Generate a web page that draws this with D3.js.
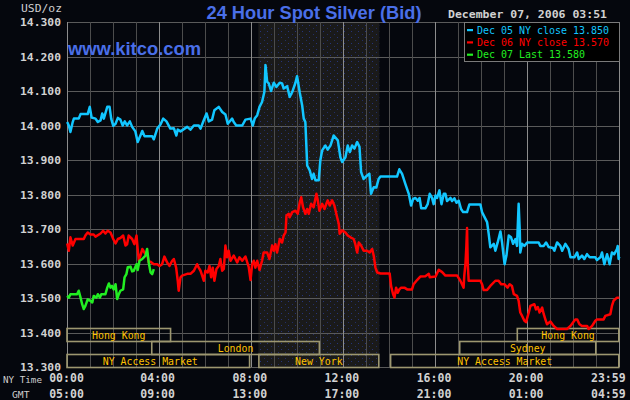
<!DOCTYPE html>
<html><head><meta charset="utf-8">
<script src="https://cdn.jsdelivr.net/npm/d3@7"></script>
<style>html,body{margin:0;padding:0;background:#05070d;} svg{display:block}</style>
</head><body><div id="chart"></div>
<script>
// ---------- data ----------
const yTicks = [14.3, 14.2, 14.1, 14.0, 13.9, 13.8, 13.7, 13.6, 13.5, 13.4, 13.3];
const labelHours = [0, 4, 8, 12, 16, 20, 24];
const nyTimeLabels = ["00:00", "04:00", "08:00", "12:00", "16:00", "20:00", "23:59"];
const gmtLabels = ["05:00", "09:00", "13:00", "17:00", "21:00", "01:00", "04:59"];
const legendLabels = ["Dec 05 NY close 13.850", "Dec 06 NY close 13.570", "Dec 07 Last 13.580"];
const seriesColors = ["#12c6ff", "#ff0000", "#22ee22"];
const titleText = "24 Hour Spot Silver (Bid)";
const dateText = "December 07, 2006 03:51";
const siteText = "www.kitco.com";
const shadeHours = [8.33, 13.58];
// sessions: name, start hour, end hour, row (0 = top)
const sessionNames = ["Hong Kong", "London", "NY Access Market", "New York", "NY Access Market", "Sydney", "Hong Kong"];
const sessionStart = [0, 3.68, 0, 8.33, 14.05, 17.05, 19.55];
const sessionEnd = [4.54, 11.0, 7.97, 13.58, 24, 23.0, 24];
const sessionRow = [0, 1, 2, 2, 2, 1, 0];

// [hour (NY time), price]
const dec05 = [[0.03,14.010],[0.10,14.000],[0.17,13.981],[0.27,14.010],[0.32,14.020],[0.53,14.020],[0.61,14.033],[0.92,14.033],[1.01,14.054],[1.09,14.023],[1.26,14.020],[1.36,14.010],[1.48,14.015],[1.55,14.035],[1.62,14.020],[1.77,14.054],[1.87,14.054],[1.94,14.020],[2.03,13.999],[2.13,14.005],[2.23,14.022],[2.34,14.017],[2.44,14.000],[2.53,14.012],[2.63,14.000],[2.75,14.012],[2.85,13.996],[2.99,13.983],[3.09,13.952],[3.21,13.971],[3.29,13.984],[3.39,13.969],[3.72,13.969],[3.79,13.960],[3.94,13.991],[4.08,14.003],[4.20,14.020],[4.34,14.012],[4.51,13.991],[4.66,13.992],[4.77,13.971],[4.83,13.988],[4.95,13.983],[5.24,13.996],[5.38,13.988],[5.53,14.000],[5.74,14.000],[5.82,13.991],[5.93,14.010],[6.08,14.035],[6.18,14.012],[6.32,14.017],[6.42,14.044],[6.61,14.054],[6.76,14.039],[6.90,14.032],[7.00,14.005],[7.19,14.020],[7.26,14.010],[7.37,14.000],[7.63,14.000],[7.77,14.017],[7.99,14.020],[8.09,14.000],[8.17,14.020],[8.28,14.030],[8.38,14.054],[8.49,14.068],[8.59,14.097],[8.64,14.175],[8.71,14.127],[8.78,14.122],[8.88,14.100],[9.00,14.124],[9.11,14.112],[9.26,14.124],[9.36,14.122],[9.43,14.107],[9.58,14.114],[9.69,14.083],[9.80,14.097],[9.94,14.124],[10.01,14.143],[10.13,14.094],[10.23,14.059],[10.30,14.020],[10.37,14.010],[10.45,13.884],[10.56,13.870],[10.66,13.845],[10.73,13.860],[10.81,13.841],[10.95,13.841],[11.02,13.899],[11.10,13.928],[11.24,13.942],[11.34,13.930],[11.46,13.942],[11.60,13.971],[11.78,13.957],[11.89,13.908],[11.97,13.894],[12.11,13.908],[12.21,13.942],[12.30,13.923],[12.40,13.942],[12.50,13.933],[12.62,13.952],[12.72,13.938],[12.79,13.865],[12.90,13.845],[13.05,13.855],[13.15,13.860],[13.22,13.802],[13.34,13.821],[13.45,13.820],[13.55,13.845],[13.63,13.852],[14.35,13.852],[14.45,13.873],[14.57,13.860],[14.71,13.831],[14.86,13.802],[14.96,13.768],[15.05,13.787],[15.15,13.790],[15.25,13.782],[15.33,13.790],[15.40,13.760],[15.58,13.760],[15.68,13.772],[15.77,13.802],[15.87,13.790],[15.94,13.772],[16.02,13.797],[16.09,13.790],[16.19,13.812],[16.28,13.772],[16.38,13.802],[16.45,13.802],[16.52,13.781],[16.67,13.790],[16.74,13.781],[16.84,13.789],[16.93,13.776],[17.03,13.782],[17.13,13.758],[17.22,13.749],[17.39,13.749],[17.49,13.771],[17.97,13.771],[18.04,13.749],[18.26,13.720],[18.33,13.686],[18.40,13.647],[18.55,13.657],[18.62,13.637],[18.72,13.661],[18.84,13.693],[18.91,13.661],[18.95,13.637],[19.02,13.598],[19.10,13.623],[19.20,13.681],[19.30,13.676],[19.39,13.657],[19.49,13.671],[19.56,13.651],[19.63,13.773],[19.68,13.693],[19.70,13.632],[19.78,13.657],[19.88,13.651],[20.00,13.661],[20.50,13.661],[20.57,13.651],[20.72,13.651],[20.82,13.661],[20.93,13.648],[21.12,13.645],[21.18,13.637],[21.30,13.661],[21.44,13.651],[21.52,13.637],[21.66,13.657],[21.80,13.642],[21.88,13.618],[22.05,13.618],[22.17,13.632],[22.24,13.613],[22.38,13.623],[22.48,13.613],[22.60,13.627],[22.71,13.618],[22.96,13.618],[23.03,13.610],[23.18,13.618],[23.25,13.632],[23.35,13.598],[23.47,13.627],[23.58,13.598],[23.68,13.632],[23.78,13.627],[23.90,13.642],[23.93,13.651],[23.97,13.613],[24.00,13.620]];

const dec06 = [[0.03,13.658],[0.10,13.637],[0.17,13.676],[0.27,13.652],[0.39,13.671],[0.75,13.671],[0.82,13.681],[0.92,13.690],[1.04,13.684],[1.18,13.684],[1.26,13.678],[1.48,13.687],[1.59,13.695],[1.69,13.687],[1.79,13.695],[1.91,13.690],[2.03,13.671],[2.13,13.658],[2.23,13.671],[2.34,13.674],[2.46,13.681],[2.56,13.652],[2.63,13.656],[2.70,13.681],[2.85,13.671],[2.95,13.656],[3.04,13.681],[3.09,13.642],[3.14,13.608],[3.21,13.623],[3.29,13.642],[3.43,13.627],[3.50,13.630],[3.57,13.603],[3.65,13.605],[3.79,13.598],[3.94,13.598],[4.04,13.593],[4.15,13.598],[4.25,13.620],[4.37,13.603],[4.47,13.593],[4.59,13.608],[4.66,13.613],[4.76,13.588],[4.83,13.550],[4.87,13.521],[4.95,13.560],[5.02,13.565],[5.24,13.570],[5.38,13.570],[5.53,13.579],[5.67,13.598],[5.74,13.588],[5.82,13.579],[5.89,13.565],[5.96,13.550],[6.03,13.579],[6.13,13.574],[6.21,13.593],[6.28,13.560],[6.35,13.588],[6.42,13.550],[6.51,13.584],[6.61,13.593],[6.68,13.613],[6.76,13.579],[6.83,13.584],[6.90,13.652],[6.97,13.618],[7.04,13.637],[7.12,13.608],[7.26,13.623],[7.41,13.603],[7.51,13.618],[7.63,13.608],[7.77,13.620],[7.91,13.590],[7.99,13.552],[8.06,13.598],[8.13,13.608],[8.20,13.588],[8.28,13.608],[8.38,13.581],[8.49,13.608],[8.56,13.632],[8.71,13.632],[8.81,13.613],[8.93,13.652],[9.00,13.637],[9.07,13.656],[9.14,13.632],[9.26,13.671],[9.36,13.661],[9.43,13.681],[9.51,13.690],[9.55,13.739],[9.65,13.744],[9.69,13.734],[9.80,13.749],[9.94,13.753],[10.04,13.744],[10.13,13.778],[10.19,13.792],[10.27,13.763],[10.37,13.744],[10.45,13.758],[10.52,13.744],[10.62,13.773],[10.73,13.763],[10.85,13.802],[10.91,13.783],[10.98,13.753],[11.10,13.773],[11.20,13.758],[11.28,13.773],[11.34,13.783],[11.43,13.768],[11.53,13.783],[11.63,13.768],[11.75,13.734],[11.82,13.715],[11.86,13.686],[11.97,13.696],[12.11,13.690],[12.21,13.681],[12.33,13.676],[12.47,13.671],[12.54,13.656],[12.62,13.632],[12.69,13.661],[12.79,13.652],[12.90,13.637],[13.05,13.637],[13.16,13.632],[13.27,13.642],[13.34,13.622],[13.41,13.589],[13.49,13.574],[13.63,13.571],[14.03,13.571],[14.09,13.535],[14.18,13.511],[14.24,13.501],[14.31,13.530],[14.38,13.515],[14.45,13.525],[14.53,13.530],[14.67,13.530],[14.79,13.525],[15.00,13.525],[15.07,13.540],[15.22,13.552],[15.36,13.562],[15.58,13.563],[15.73,13.570],[15.77,13.560],[16.02,13.562],[16.16,13.582],[16.31,13.575],[16.45,13.565],[16.96,13.565],[17.10,13.550],[17.17,13.540],[17.24,13.530],[17.27,13.565],[17.32,13.598],[17.36,13.650],[17.39,13.703],[17.42,13.600],[17.46,13.550],[17.97,13.550],[18.04,13.540],[18.11,13.523],[18.26,13.523],[18.40,13.535],[18.62,13.550],[18.76,13.550],[18.87,13.540],[19.01,13.540],[19.15,13.530],[19.24,13.540],[19.34,13.535],[19.42,13.511],[19.56,13.506],[19.63,13.492],[19.70,13.458],[19.78,13.448],[19.88,13.434],[19.95,13.430],[20.07,13.458],[20.14,13.477],[20.31,13.482],[20.38,13.467],[20.46,13.474],[20.54,13.458],[20.65,13.472],[20.72,13.453],[20.79,13.438],[20.86,13.424],[21.01,13.432],[21.15,13.419],[21.30,13.410],[21.73,13.410],[21.88,13.419],[21.99,13.429],[22.09,13.438],[22.17,13.438],[22.27,13.424],[22.38,13.419],[22.60,13.419],[22.67,13.410],[22.82,13.419],[22.96,13.434],[23.03,13.438],[23.32,13.438],[23.39,13.448],[23.61,13.453],[23.68,13.477],[23.75,13.492],[23.90,13.501],[24.00,13.501]];

const dec07 = [[0.03,13.506],[0.10,13.501],[0.17,13.511],[0.46,13.511],[0.53,13.521],[0.61,13.501],[0.68,13.482],[0.75,13.468],[0.82,13.477],[0.92,13.496],[1.04,13.492],[1.12,13.487],[1.18,13.506],[1.30,13.501],[1.36,13.511],[1.45,13.501],[1.51,13.511],[1.69,13.511],[1.77,13.530],[1.84,13.542],[1.91,13.530],[1.98,13.535],[2.05,13.525],[2.13,13.540],[2.20,13.497],[2.27,13.511],[2.34,13.521],[2.46,13.525],[2.52,13.560],[2.60,13.569],[2.66,13.589],[2.78,13.591],[2.85,13.577],[2.92,13.579],[3.04,13.598],[3.09,13.581],[3.17,13.608],[3.29,13.613],[3.43,13.623],[3.50,13.642],[3.57,13.603],[3.65,13.574],[3.72,13.569],[3.79,13.584]];

// ---------- chart ----------
const W = 630, H = 400;
const plot = {left: 66.5, right: 619.3, top: 22, bottom: 367};
const rowTop = [328, 341, 354];
const rowH = 13;

const x = d3.scaleLinear().domain([0, 24]).range([plot.left, plot.right]);
const y = d3.scaleLinear().domain([13.3, 14.3]).range([plot.bottom, plot.top]);

const svg = d3.select("#chart").append("svg").attr("width", W).attr("height", H);
svg.append("rect").attr("width", W).attr("height", H).attr("fill", "#05070d");

const defs = svg.append("defs");
const pat = defs.append("pattern").attr("id", "dots").attr("patternUnits", "userSpaceOnUse")
  .attr("width", 7).attr("height", 6);
pat.append("rect").attr("width", 7).attr("height", 6).attr("fill", "#1a1a1a");
pat.append("rect").attr("x", 1).attr("y", 1).attr("width", 1).attr("height", 1).attr("fill", "#26347a");
pat.append("rect").attr("x", 5).attr("y", 4).attr("width", 1).attr("height", 1).attr("fill", "#222e66");

// shaded trading session
svg.append("rect")
  .attr("x", x(shadeHours[0])).attr("y", plot.top)
  .attr("width", x(shadeHours[1]) - x(shadeHours[0])).attr("height", plot.bottom - plot.top)
  .attr("fill", "url(#dots)");

// grid
const grid = svg.append("g").attr("shape-rendering", "crispEdges");
grid.selectAll("line.h").data(yTicks).join("line")
  .attr("x1", plot.left).attr("x2", plot.right)
  .attr("y1", d => Math.round(y(d)) + 0.5).attr("y2", d => Math.round(y(d)) + 0.5)
  .attr("stroke", "#5a5a5a").attr("stroke-width", 1);
grid.selectAll("line.v").data(d3.range(0, 25)).join("line")
  .attr("x1", d => Math.round(x(d)) + 0.5).attr("x2", d => Math.round(x(d)) + 0.5)
  .attr("y1", plot.top).attr("y2", plot.bottom)
  .attr("stroke", d => d % 4 === 0 ? "#8c8c8c" : "#4c4c4c").attr("stroke-width", 1);

// market session boxes
const sessions = sessionNames.map((n, i) => ({name: n, s: sessionStart[i], e: sessionEnd[i], row: sessionRow[i]}));
const sg = svg.append("g");
sg.selectAll("rect").data(sessions).join("rect")
  .attr("x", d => x(d.s) + 0.5).attr("y", d => rowTop[d.row] + 0.5)
  .attr("width", d => x(d.e) - x(d.s) - 1).attr("height", rowH)
  .attr("fill", "none").attr("stroke", "#9d9770").attr("stroke-width", 1.6);
sg.selectAll("text").data(sessions).join("text")
  .attr("x", d => (x(d.s) + x(d.e)) / 2 - (d.name === "NY Access Market" && d.s === 0 ? 8 : 0))
  .attr("y", d => rowTop[d.row] + rowH - 2.5)
  .attr("text-anchor", "middle")
  .attr("font-family", "DejaVu Sans Mono, monospace").attr("font-size", 10.5)
  .attr("fill", "#ffc200")
  .attr("textLength", d => d.name.length * 5.94).attr("lengthAdjust", "spacingAndGlyphs")
  .text(d => d.name);

// series lines
const line = d3.line().x(d => x(d[0])).y(d => y(d[1]));
[dec05, dec06, dec07].forEach((s, i) => {
  svg.append("path").datum(s).attr("d", line)
    .attr("fill", "none").attr("stroke", seriesColors[i])
    .attr("stroke-width", 2.5).attr("stroke-linejoin", "round");
});

// y axis labels
const mono = "DejaVu Sans Mono, monospace";
svg.append("text").attr("x", 21).attr("y", 12).attr("font-family", mono).attr("font-size", 11)
  .attr("fill", "#cfcfcf").attr("textLength", 41).attr("lengthAdjust", "spacingAndGlyphs").text("USD/oz");
svg.selectAll("text.ylab").data(yTicks).join("text")
  .attr("x", 61).attr("y", d => y(d) + 4)
  .attr("text-anchor", "end").attr("font-family", mono).attr("font-size", 11).attr("font-weight", "bold")
  .attr("fill", "#d2d2d2").attr("textLength", 41).attr("lengthAdjust", "spacingAndGlyphs")
  .text(d => d3.format(".3f")(d));

// x axis labels
svg.append("text").attr("x", 3).attr("y", 383).attr("font-family", mono).attr("font-size", 9.5)
  .attr("fill", "#cfcfcf").attr("textLength", 39).attr("lengthAdjust", "spacingAndGlyphs").text("NY Time");
svg.append("text").attr("x", 12).attr("y", 398).attr("font-family", mono).attr("font-size", 9.5)
  .attr("fill", "#cfcfcf").attr("textLength", 17.5).attr("lengthAdjust", "spacingAndGlyphs").text("GMT");
const xl = labelHours.map((h, i) => ({h, ny: nyTimeLabels[i], gmt: gmtLabels[i], last: i === labelHours.length - 1}));
[["ny", 382], ["gmt", 398]].forEach(([k, yy]) => {
  svg.selectAll("text.x" + k).data(xl).join("text")
    .attr("x", d => d.last ? x(d.h) - 11 : (d.h === 0 ? x(d.h) : x(d.h) - 1)).attr("y", yy)
    .attr("text-anchor", "middle").attr("font-family", mono).attr("font-size", 11.5).attr("font-weight", "bold")
    .attr("fill", "#d2d2d2").attr("textLength", 34.7).attr("lengthAdjust", "spacingAndGlyphs")
    .text(d => d[k]);
});

// title, site, date
svg.append("text").attr("x", 314).attr("y", 18.5).attr("text-anchor", "middle")
  .attr("font-family", "Liberation Sans, Arial, sans-serif").attr("font-size", 18.5).attr("font-weight", "bold")
  .attr("fill", "#4a6fe8").attr("textLength", 215).attr("lengthAdjust", "spacingAndGlyphs").text(titleText);
svg.append("text").attr("x", 68).attr("y", 55).attr("font-family", "Liberation Sans, Arial, sans-serif")
  .attr("font-size", 18).attr("font-weight", "bold").attr("fill", "#4a6fe8")
  .attr("textLength", 133).attr("lengthAdjust", "spacingAndGlyphs").text(siteText);
svg.append("text").attr("x", 448).attr("y", 18.3).attr("font-family", mono).attr("font-size", 11).attr("font-weight", "bold")
  .attr("fill", "#d2d2d2").attr("textLength", 159).attr("lengthAdjust", "spacingAndGlyphs").text(dateText);

// legend
const lg = svg.append("g");
lg.append("rect").attr("x", 464.5).attr("y", 22.5).attr("width", 154.5).attr("height", 38.5)
  .attr("fill", "#000").attr("stroke", "#7a7a7a").attr("stroke-width", 1).attr("shape-rendering", "crispEdges");
legendLabels.forEach((t, i) => {
  const by = 33.5 + i * 12.3;
  lg.append("rect").attr("x", 467).attr("y", by - 4.5).attr("width", 6).attr("height", 2.2).attr("fill", seriesColors[i]);
  lg.append("text").attr("x", 477).attr("y", by).attr("font-family", mono).attr("font-size", 10)
    .attr("fill", seriesColors[i]).attr("textLength", t.length * 6).attr("lengthAdjust", "spacingAndGlyphs").text(t);
});
</script></body></html>
